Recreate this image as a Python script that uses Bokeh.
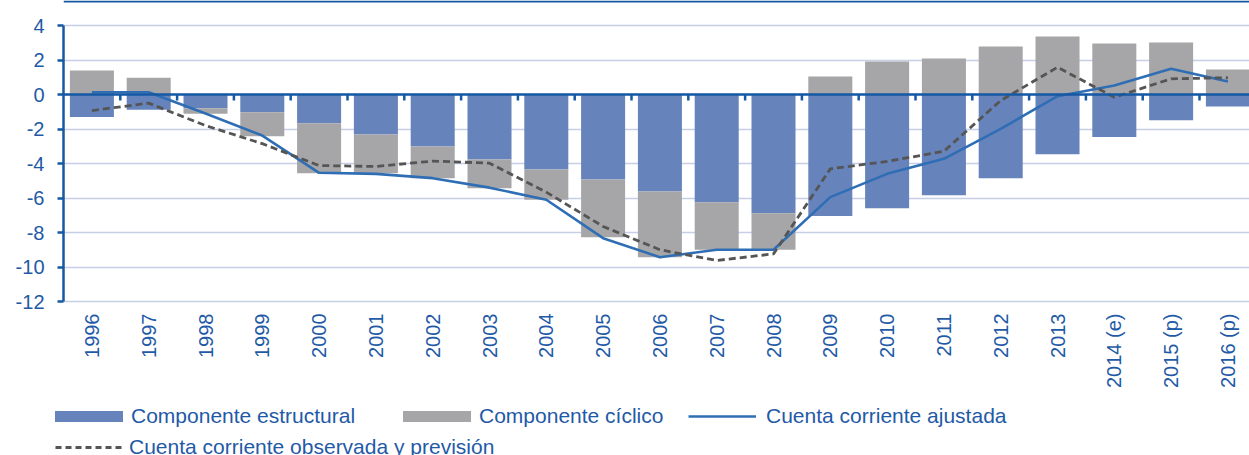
import numpy as np
from bokeh.plotting import figure
from bokeh.layouts import column
from bokeh.models import Range1d, FixedTicker, Span, Legend, LegendItem
from bokeh.embed import file_html
from bokeh.resources import INLINE

years = ["1996", "1997", "1998", "1999", "2000", "2001", "2002", "2003", "2004",
         "2005", "2006", "2007", "2008", "2009", "2010", "2011", "2012", "2013",
         "2014 (e)", "2015 (p)", "2016 (p)"]
estructural = [-1.31, -0.89, -0.79, -1.03, -1.66, -2.32, -3.01, -3.77, -4.35, -4.93, -5.62,
               -6.24, -6.88, -7.05, -6.59, -5.84, -4.85, -3.46, -2.47, -1.49, -0.70]
ciclico = [1.39, 0.97, -0.33, -1.39, -2.90, -2.24, -1.84, -1.66, -1.75, -3.34, -3.81,
           -2.76, -2.12, 1.04, 1.91, 2.09, 2.78, 3.36, 2.96, 3.01, 1.45]
ajustada = [0.13, 0.13, -1.10, -2.38, -4.54, -4.60, -4.85, -5.40, -6.10, -8.33, -9.43,
            -9.00, -9.00, -5.95, -4.60, -3.73, -1.99, -0.10, 0.52, 1.49, 0.75]
observada = [-0.93, -0.50, -1.80, -2.85, -4.12, -4.17, -3.86, -3.98, -5.66, -7.65, -9.00,
             -9.62, -9.24, -4.31, -3.88, -3.29, -0.35, 1.58, -0.16, 0.91, 0.97]
y_ticks = [-12, -10, -8, -6, -4, -2, 0, 2, 4]

TXT = "#1F5AA6"
AX = "#1558A3"
FONT = "Liberation Sans"
C_EST = "#6683BB"
C_CIC = "#A6A6A8"
C_AJ = "#2F6EB5"
C_OB = "#555555"

n = len(years)
x = np.arange(n) + 0.5
s = np.array(estructural)
c = np.array(ciclico)
same = np.sign(s) == np.sign(c)
c_bottom = np.where(same, s, 0.0)
c_top = c_bottom + c

px_per_unit = 17.25
y_end = 4 + 25 / px_per_unit
y_start = -12 - 2 / px_per_unit

p = figure(width=1249, height=400, x_range=Range1d(0, 20.88), y_range=Range1d(y_start, y_end),
           output_backend="svg", toolbar_location=None, title=None, frame_align=False,
           min_border_left=63, min_border_right=0, min_border_top=0, min_border_bottom=97)
p.outline_line_color = None
p.background_fill_color = "white"
p.border_fill_color = "white"

# y axis
p.yaxis.ticker = FixedTicker(ticks=y_ticks)
p.yaxis.major_label_overrides = {t: str(t) for t in y_ticks}
p.yaxis.bounds = (-12, 4)
p.yaxis.axis_line_color = AX
p.yaxis.axis_line_width = 2.5
p.yaxis.major_tick_line_color = AX
p.yaxis.major_tick_line_width = 2.5
p.yaxis.major_tick_out = 6
p.yaxis.major_tick_in = 0
p.yaxis.minor_tick_line_color = None
p.yaxis.major_label_standoff = 13
p.yaxis.major_label_text_font = FONT
p.yaxis.major_label_text_font_size = "20px"
p.yaxis.major_label_text_color = TXT

# x axis
p.xaxis.ticker = FixedTicker(ticks=list(x))
p.xaxis.major_label_overrides = {float(xi): lab for xi, lab in zip(x, years)}
p.xaxis.major_label_orientation = np.pi / 2
p.xaxis.axis_line_color = None
p.xaxis.major_tick_line_color = None
p.xaxis.minor_tick_line_color = None
p.xaxis.major_tick_out = 0
p.xaxis.major_label_standoff = 10
p.xaxis.major_label_text_font = FONT
p.xaxis.major_label_text_font_size = "20px"
p.xaxis.major_label_text_color = TXT

p.xgrid.visible = False
p.ygrid.grid_line_color = "#C5D0E8"
p.ygrid.grid_line_width = 1.6

p.vbar(x=x, top=s, bottom=0, width=0.775, fill_color=C_EST, line_color=None)
p.vbar(x=x, top=c_top, bottom=c_bottom, width=0.775, fill_color=C_CIC, line_color=None)

p.add_layout(Span(location=0, dimension="width", line_color=AX, line_width=2.6))
bounds_x = np.arange(1, n)
p.segment(x0=bounds_x, y0=0, x1=bounds_x, y1=-6 / px_per_unit, line_color=AX, line_width=2.5)
p.add_layout(Span(location=y_end - 1 / px_per_unit, dimension="width", line_color=AX, line_width=2))

p.line(x, ajustada, line_color=C_AJ, line_width=2.6)
p.line(x, observada, line_color=C_OB, line_width=2.8, line_dash="7 4")

# legend strip (same series as hidden renderers; only the legend shows)
lg = figure(width=1249, height=55, x_range=Range1d(0, 20.88), y_range=Range1d(y_start, y_end),
            output_backend="svg", toolbar_location=None, title=None, frame_align=False,
            x_axis_type=None, y_axis_type=None,
            min_border_left=0, min_border_right=0, min_border_top=0, min_border_bottom=0)
lg.outline_line_color = None
lg.xgrid.visible = False
lg.ygrid.visible = False
lg.background_fill_color = "white"
lg.border_fill_color = "white"

k_est = lg.vbar(x=x, top=s, bottom=0, width=0.775, fill_color=C_EST, line_color=None, visible=False)
k_cic = lg.vbar(x=x, top=c_top, bottom=c_bottom, width=0.775, fill_color=C_CIC, line_color=None,
                visible=False)
k_aj = lg.line(x, ajustada, line_color=C_AJ, line_width=2.6, visible=False)
k_ob = lg.line(x, observada, line_color=C_OB, line_width=2.8, line_dash="6 4", visible=False)


def make_legend(label, rend, loc, gw, gh, standoff):
    item = Legend(items=[LegendItem(label=label, renderers=[rend])], location=loc,
                  orientation="horizontal", padding=0, margin=0, spacing=0,
                  border_line_color=None, background_fill_alpha=0,
                  glyph_width=gw, glyph_height=gh, label_standoff=standoff,
                  label_text_font=FONT, label_text_font_size="21px", label_text_color=TXT,
                  label_height=24)
    lg.add_layout(item)


make_legend("Componente estructural", k_est, (46, 27), 85, 14, 0)
make_legend("Componente cíclico", k_cic, (394, 27), 85, 14, 0)
make_legend("Cuenta corriente ajustada", k_aj, (688, 27), 68, 14, 10)
make_legend("Cuenta corriente observada y previsión", k_ob, (55, -4), 68, 14, 6)

layout = column(p, lg, spacing=0)
open("out.html", "w").write(file_html(layout, INLINE))
